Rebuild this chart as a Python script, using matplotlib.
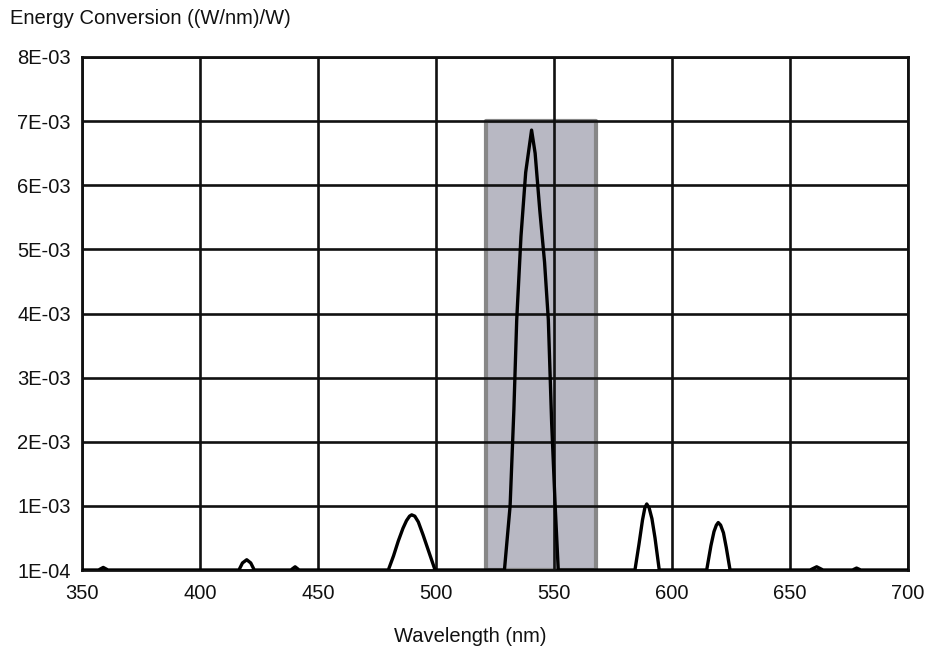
from matplotlib import pyplot as plt

plt.rcParams['font.family'] = ['Liberation Sans', 'DejaVu Sans']

# spectrum (nm, W/nm per W)
wavelength = [350, 357, 359, 361,
              416.5, 418, 419.8, 421.5, 423,
              438.5, 440.3, 442,
              479.8, 482, 484, 486, 487.5, 488.8, 489.7, 491, 492.5, 494.5, 497, 499.6,
              529, 531.4, 533, 534.2, 536, 538, 540.5, 542, 544, 546, 547.6, 549, 550.5, 551.8,
              584.3, 586, 587.5, 588.5, 589.3, 590.3, 591.5, 592.8, 594.6,
              614.7, 616.5, 617.8, 618.8, 619.6, 620.6, 621.8, 623, 624.6,
              658.5, 661.3, 664,
              676.5, 678.2, 680, 700]
energy = [0, 0, 0.00004, 0,
          0, 0.00011, 0.00016, 0.00011, 0,
          0, 0.00005, 0,
          0, 0.00022, 0.00045, 0.00065, 0.00077, 0.00084, 0.00086, 0.00084, 0.00075, 0.00055, 0.00028, 0,
          0, 0.001, 0.0025, 0.0039, 0.0052, 0.0062, 0.00686, 0.0065, 0.0056, 0.0048, 0.0039, 0.0023, 0.001, 0,
          0, 0.0004, 0.00078, 0.00097, 0.00103, 0.00097, 0.0008, 0.0005, 0,
          0, 0.00038, 0.0006, 0.0007, 0.00074, 0.0007, 0.00058, 0.00035, 0,
          0, 0.00005, 0,
          0, 0.00003, 0, 0]

# highlighted band
band_x = [521, 568]
band_top = 0.007

yticks = [0, 0.001, 0.002, 0.003, 0.004, 0.005, 0.006, 0.007, 0.008]
ytick_labels = ['1E-04', '1E-03', '2E-03', '3E-03', '4E-03', '5E-03', '6E-03', '7E-03', '8E-03']
xticks = [350, 400, 450, 500, 550, 600, 650, 700]

fig = plt.figure(figsize=(9.25, 6.54), dpi=100)
ax = fig.add_axes([82/925, 1-570/654, (908-82)/925, (570-57)/654])

ax.fill_between(band_x, 0, band_top, facecolor='#b8b8c3', edgecolor='#878787', linewidth=3, zorder=1)
ax.plot(wavelength, energy, color='black', linewidth=2.4, zorder=3)

ax.set_xlim(350, 700)
ax.set_ylim(0, 0.008)
ax.set_xticks(xticks)
ax.set_yticks(yticks)
ax.set_yticklabels(ytick_labels)
ax.tick_params(length=0, labelsize=14.5, colors='#111111')
ax.tick_params(axis='x', pad=10)
ax.tick_params(axis='y', pad=8)
ax.grid(True, color='#111111', linewidth=1.9, zorder=2)
for s in ax.spines.values():
    s.set_linewidth(2)
    s.set_color('#111111')

fig.text(10/925, 1-18/654, 'Energy Conversion ((W/nm)/W)', fontsize=14.5, va='center', ha='left', color='#111111')
fig.text(470/925, 1-636/654, 'Wavelength (nm)', fontsize=14.5, va='center', ha='center', color='#111111')

plt.savefig('out.png', dpi=100)
